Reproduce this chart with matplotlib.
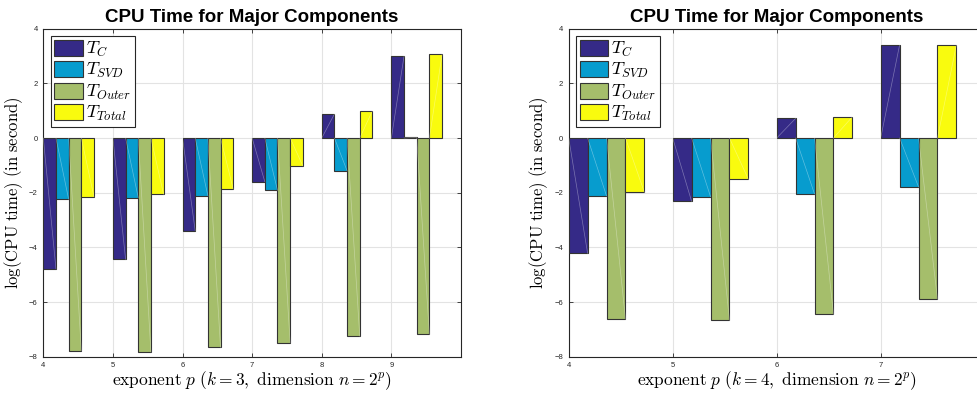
import matplotlib
matplotlib.use("Agg")
import matplotlib.pyplot as plt
import numpy as np

plt.rcParams['font.family'] = ['Liberation Sans', 'DejaVu Sans']
plt.rcParams['mathtext.fontset'] = 'cm'

# ---- data ----
p_k3 = [4, 5, 6, 7, 8, 9]
tc_k3 = [-4.79, -4.44, -3.39, -1.60, 0.88, 3.00]
tsvd_k3 = [-2.24, -2.18, -2.11, -1.91, -1.20, 0.03]
touter_k3 = [-7.78, -7.83, -7.66, -7.49, -7.25, -7.18]
ttotal_k3 = [-2.15, -2.06, -1.87, -1.02, 1.00, 3.06]

p_k4 = [4, 5, 6, 7]
tc_k4 = [-4.22, -2.32, 0.72, 3.41]
tsvd_k4 = [-2.12, -2.15, -2.05, -1.79]
touter_k4 = [-6.62, -6.67, -6.45, -5.89]
ttotal_k4 = [-1.99, -1.51, 0.78, 3.41]

labels = [r'$T_C$', r'$T_{SVD}$', r'$T_{Outer}$', r'$T_{Total}$']
colors = ['#352a87', '#079cce', '#a5be6b', '#f9fb0e']
title = 'CPU Time for Major Components'
ylabel = r'$\mathrm{log(CPU\ time)\ (in\ second)}$'
xlabel_k3 = r'$\mathrm{exponent}\ p\ (k=3,\ \mathrm{dimension}\ n=2^p)$'
xlabel_k4 = r'$\mathrm{exponent}\ p\ (k=4,\ \mathrm{dimension}\ n=2^p)$'

W, H = 978, 394
fig = plt.figure(figsize=(W / 100, H / 100), dpi=100)

bw = 0.182


def panel(rect, p, series, xlabel, xlim, xticks):
    ax = fig.add_axes(rect)
    p = np.asarray(p, dtype=float)
    for i, (vals, c, lab) in enumerate(zip(series, colors, labels)):
        bars = ax.bar(p + i * bw, vals, width=bw, align='edge', color=c,
                      edgecolor='#333333', linewidth=0.8, label=lab, zorder=3)
        for r in bars:
            x0 = r.get_x()
            ax.plot([x0, x0 + r.get_width()], [0, r.get_height()],
                    color='white', lw=0.5, alpha=0.35, zorder=4)
    ax.set_xlim(*xlim)
    ax.set_ylim(-8, 4)
    ax.set_xticks(xticks)
    ax.set_yticks(np.arange(-8, 5, 2))
    ax.grid(True, color='#e3e3e3', linewidth=0.8)
    ax.set_axisbelow(True)
    ax.tick_params(direction='in', length=3, width=0.6, labelsize=5.5,
                   colors='#262626', top=True, right=True, pad=4)
    for s in ax.spines.values():
        s.set_color('#262626')
        s.set_linewidth(0.8)
    ax.set_title(title, fontsize=13.5, fontweight='bold', pad=5)
    ax.set_ylabel(ylabel, fontsize=12, labelpad=3)
    ax.set_xlabel(xlabel, fontsize=12.5, labelpad=0)
    leg = ax.legend(loc='upper left', fontsize=13, fancybox=False,
                    framealpha=1, edgecolor='#262626', handlelength=1.6,
                    handleheight=1.0, handletextpad=0.15, labelspacing=0.12,
                    borderpad=0.2, borderaxespad=0.4)
    leg.get_frame().set_linewidth(0.8)
    return ax


panel([43.3 / W, 37.3 / H, 417.7 / W, 328 / H], p_k3,
      [tc_k3, tsvd_k3, touter_k3, ttotal_k3], xlabel_k3, (4, 10), [4, 5, 6, 7, 8, 9])
panel([568.7 / W, 37.3 / H, 416 / W, 328 / H], p_k4,
      [tc_k4, tsvd_k4, touter_k4, ttotal_k4], xlabel_k4, (4, 8), [4, 5, 6, 7])

fig.savefig('out.png', dpi=100)
